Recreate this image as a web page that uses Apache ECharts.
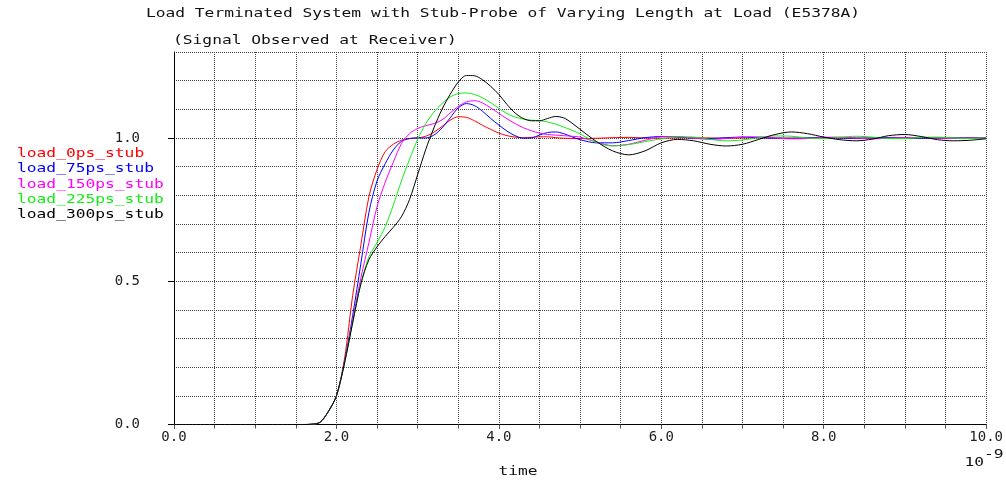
<!DOCTYPE html>
<html>
<head>
<meta charset="utf-8">
<script src="https://cdn.jsdelivr.net/npm/echarts@6/dist/echarts.min.js"></script>
<style>
  html, body { margin: 0; padding: 0; background: #fff; }
  #chart { width: 1006px; height: 482px; }
</style>
</head>
<body>
<div id="chart"></div>
<script>
// Time samples (ns) shared by every waveform
const times = [0, 1.6, 1.7, 1.8, 1.9, 2.0, 2.1, 2.2, 2.3, 2.4, 2.5, 2.6, 2.7, 2.8, 2.9,
  3.0, 3.1, 3.2, 3.3, 3.4, 3.5, 3.6, 3.7, 3.8, 3.9, 4.0, 4.1, 4.2, 4.3, 4.4, 4.5,
  4.6, 4.7, 4.8, 4.9, 5.0, 5.2, 5.4, 5.6, 5.8, 6.0, 6.2, 6.4, 6.6, 6.8, 7.0, 7.2,
  7.4, 7.6, 7.8, 8.0, 8.2, 8.4, 8.6, 8.8, 9.0, 9.2, 9.4, 9.6, 9.8, 10.0];

// Receiver voltage for each stub length
const load0ps = [0, 0, 0.001, 0.008, 0.045, 0.10, 0.23, 0.45, 0.625, 0.795, 0.89, 0.952, 0.978, 0.992, 0.998,
  1.0, 1.006, 1.02, 1.04, 1.062, 1.074, 1.072, 1.06, 1.044, 1.03, 1.017, 1.008, 1.003, 1.001, 1.002, 1.004,
  1.004, 1.001, 0.999, 0.998, 0.998, 0.999, 1.001, 1.002, 1.0, 0.999, 1.0, 1.001, 1.0, 0.999, 1.0, 1.001,
  1.0, 0.999, 1.0, 1.001, 1.0, 0.999, 1.0, 1.0, 1.0, 1.0, 1.0, 1.0, 1.0, 1.0];
const load75ps = [0, 0, 0.001, 0.008, 0.045, 0.10, 0.22, 0.38, 0.56, 0.74, 0.85, 0.91, 0.958, 0.988, 0.998,
  1.0, 1.0, 1.01, 1.035, 1.07, 1.105, 1.12, 1.113, 1.093, 1.068, 1.045, 1.024, 1.008, 0.999, 1.0, 1.01,
  1.019, 1.021, 1.015, 1.004, 0.994, 0.983, 0.983, 0.991, 1.001, 1.005, 1.003, 0.999, 0.998, 1.001, 1.003, 1.001,
  0.999, 0.999, 1.001, 1.002, 1.0, 0.999, 1.0, 1.001, 1.0, 0.999, 1.0, 1.0, 1.0, 1.0];
const load150ps = [0, 0, 0.001, 0.008, 0.045, 0.10, 0.215, 0.365, 0.51, 0.635, 0.76, 0.845, 0.915, 0.98, 1.015,
  1.033, 1.043, 1.05, 1.063, 1.087, 1.11, 1.126, 1.13, 1.122, 1.105, 1.086, 1.067, 1.05, 1.036, 1.025, 1.017,
  1.012, 1.01, 1.008, 1.006, 1.003, 0.986, 0.973, 0.978, 0.992, 1.004, 1.005, 0.999, 0.995, 0.998, 1.003, 1.004,
  1.0, 0.997, 0.998, 1.002, 1.003, 1.0, 0.997, 0.999, 1.001, 1.002, 1.0, 0.998, 0.999, 1.0];
const load225ps = [0, 0, 0.001, 0.008, 0.045, 0.10, 0.215, 0.355, 0.49, 0.585, 0.635, 0.69, 0.765, 0.85, 0.925,
  0.995, 1.05, 1.09, 1.12, 1.143, 1.155, 1.157, 1.152, 1.14, 1.123, 1.103, 1.085, 1.073, 1.066, 1.062, 1.06,
  1.056, 1.048, 1.038, 1.027, 1.014, 0.984, 0.972, 0.977, 0.987, 0.997, 1.004, 1.003, 0.995, 0.99, 0.993, 1.001,
  1.007, 1.006, 1.0, 0.998, 1.002, 1.006, 1.003, 0.998, 0.998, 1.002, 1.003, 1.0, 0.998, 1.0];
const load300ps = [0, 0, 0.001, 0.008, 0.045, 0.10, 0.215, 0.355, 0.49, 0.575, 0.62, 0.656, 0.688, 0.725, 0.785,
  0.872, 0.96, 1.035, 1.1, 1.152, 1.195, 1.218, 1.217, 1.203, 1.18, 1.152, 1.117, 1.087, 1.068, 1.06, 1.06,
  1.068, 1.075, 1.07, 1.052, 1.03, 0.988, 0.955, 0.941, 0.955, 0.983, 0.995, 0.99, 0.978, 0.972, 0.978, 0.995,
  1.012, 1.021, 1.015, 1.003, 0.994, 0.99, 0.996, 1.008, 1.012, 1.005, 0.994, 0.99, 0.992, 0.997];

const seriesNames = ['load_0ps_stub', 'load_75ps_stub', 'load_150ps_stub', 'load_225ps_stub', 'load_300ps_stub'];
const seriesValues = [load0ps, load75ps, load150ps, load225ps, load300ps];

// Axis ticks and their labels
const xTickValues = [0, 2, 4, 6, 8, 10];
const xTickLabels = ['0.0', '2.0', '4.0', '6.0', '8.0', '10.0'];
const yTickValues = [0, 0.5, 1.0];
const yTickLabels = ['0.0', '0.5', '1.0'];

const titleText = 'Load Terminated System with Stub-Probe of Varying Length at Load (E5378A)';
const subtitleText = '(Signal Observed at Receiver)';
const xAxisName = 'time';

// ---- styling ----
const seriesColors = ['#ff0000', '#0000ff', '#ff00ff', '#11ee11', '#000000'];
const MONO = '"DejaVu Sans Mono", "Liberation Mono", monospace';
const TEXT_SCALE = 1.25;   // widen the monospace cells

function pickLabel(values, labels) {
  return function (v) {
    for (let i = 0; i < values.length; i++) {
      if (Math.abs(values[i] - v) < 1e-9) return labels[i];
    }
    return '';
  };
}

function wideText(text, x, y, color, align, size) {
  return {
    type: 'text',
    x: x, y: y,
    scaleX: TEXT_SCALE,
    silent: true,
    style: {
      text: text,
      fill: color,
      font: (size || 13) + 'px ' + MONO,
      align: align, verticalAlign: 'middle',
      textAlign: align, textVerticalAlign: 'middle'
    }
  };
}

const gridLine = { show: true, lineStyle: { color: '#444', type: [1, 1], width: 1 } };

const graphics = [
  wideText(titleText, 503, 14, '#111', 'center'),
  wideText(subtitleText, 173, 41, '#111', 'left'),
  wideText(xAxisName, 518, 472, '#111', 'center'),
  wideText('10', 984, 463, '#111', 'right'),
  wideText('-9', 984, 455, '#111', 'left')
];
seriesNames.forEach(function (name, i) {
  graphics.push(wideText(name, 17, 154 + i * 15.1, seriesColors[i], 'left'));
});

const chart = echarts.init(document.getElementById('chart'), null, { renderer: 'canvas' });
chart.setOption({
  animation: false,
  backgroundColor: '#fff',
  grid: { left: 174, right: 18, top: 52, bottom: 57.5 },
  xAxis: [{
    // dotted grid every 0.5 ns, plus the solid bottom axis line
    type: 'value', min: 0, max: 10, interval: 0.5,
    axisLine: { show: true, onZero: false, lineStyle: { color: '#000', width: 1 } },
    axisTick: { show: false },
    axisLabel: { show: false },
    splitLine: gridLine
  }, {
    // labelled ticks every 2 ns
    type: 'value', position: 'bottom', min: 0, max: 10, interval: 2,
    axisLine: { show: false },
    axisTick: { show: true, customValues: xTickValues, length: 4, lineStyle: { color: '#000' } },
    axisLabel: {
      customValues: xTickValues, formatter: pickLabel(xTickValues, xTickLabels),
      margin: 6, fontFamily: MONO, fontSize: 14, color: '#222'
    },
    splitLine: { show: false }
  }, {
    // small inward ticks along the top edge
    type: 'value', position: 'top', min: 0, max: 10, interval: 0.5,
    axisLine: { show: false },
    axisTick: { show: true, inside: true, length: 4, lineStyle: { color: '#555' } },
    axisLabel: { show: false },
    splitLine: { show: false }
  }],
  yAxis: [{
    type: 'value', min: 0, max: 1.3, interval: 0.1,
    axisLine: { show: true, lineStyle: { color: '#000', width: 1 } },
    axisTick: { show: false },
    axisLabel: { show: false },
    splitLine: gridLine
  }, {
    type: 'value', position: 'left', min: 0, max: 1.3, interval: 0.5,
    axisLine: { show: false },
    axisTick: { show: true, customValues: yTickValues, length: 6, lineStyle: { color: '#000' } },
    axisLabel: {
      customValues: yTickValues, formatter: pickLabel(yTickValues, yTickLabels),
      margin: 34, fontFamily: MONO, fontSize: 14, color: '#222'
    },
    splitLine: { show: false }
  }],
  series: seriesNames.map(function (name, i) {
    return {
      name: name,
      type: 'line',
      xAxisIndex: 0,
      yAxisIndex: 0,
      showSymbol: false,
      smooth: 0.3,
      lineStyle: { color: seriesColors[i], width: 1 },
      itemStyle: { color: seriesColors[i] },
      data: times.map(function (t, k) { return [t, seriesValues[i][k]]; })
    };
  }),
  graphic: graphics
});
</script>
</body>
</html>
